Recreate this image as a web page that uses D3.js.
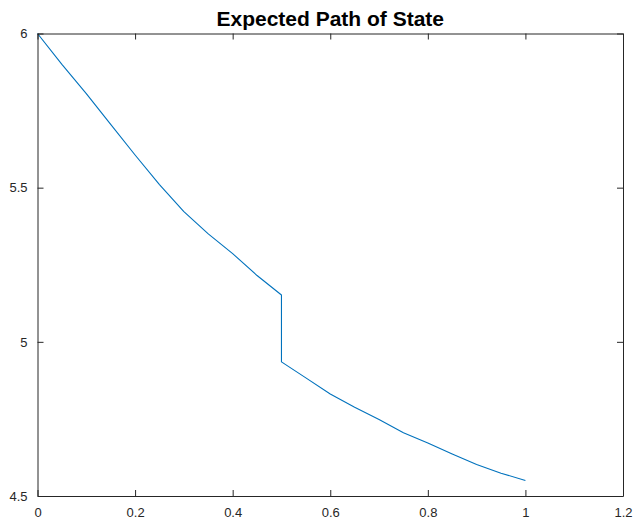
<!DOCTYPE html>
<html>
<head>
<meta charset="utf-8">
<script src="https://cdn.jsdelivr.net/npm/d3@7"></script>
<style>
  html, body { margin: 0; padding: 0; background: #fff; }
  svg { display: block; }
  text { font-family: "Liberation Sans", Arial, Helvetica, sans-serif; }
</style>
</head>
<body>
<div id="chart"></div>
<script>
// Expected state path: time and expected value (jump at t = 0.5)
const timeBefore = [0, 0.05, 0.10, 0.15, 0.20, 0.25, 0.30, 0.35, 0.40, 0.45, 0.50];
const stateBefore = [6.000, 5.900, 5.805, 5.705, 5.606, 5.510, 5.422, 5.350, 5.286, 5.215, 5.152];
const timeAfter = [0.50, 0.55, 0.60, 0.65, 0.70, 0.75, 0.80, 0.85, 0.90, 0.95, 1.00];
const stateAfter = [4.935, 4.883, 4.831, 4.788, 4.748, 4.705, 4.672, 4.636, 4.602, 4.574, 4.550];

const xTicks = [0, 0.2, 0.4, 0.6, 0.8, 1, 1.2];
const yTicks = [4.5, 5, 5.5, 6];
const titleText = "Expected Path of State";

const W = 634, H = 523;
const plotLeft = 37.5, plotRight = 623, plotTop = 33.5, plotBottom = 496;
const axisColor = "#262626";
const lineColor = "#0072BD";
const tickLen = 6;

const svg = d3.select("#chart").append("svg")
  .attr("width", W).attr("height", H);

const x = d3.scaleLinear().domain([0, 1.2]).range([plotLeft, plotRight]);
const y = d3.scaleLinear().domain([4.5, 6]).range([plotBottom, plotTop]);

// path data: both segments joined, producing the vertical drop at t = 0.5
const points = timeBefore.map((t, i) => [t, stateBefore[i]])
  .concat(timeAfter.map((t, i) => [t, stateAfter[i]]));

const line = d3.line().x(d => x(d[0])).y(d => y(d[1]));

svg.append("path")
  .datum(points)
  .attr("fill", "none")
  .attr("stroke", lineColor)
  .attr("stroke-width", 1.1)
  .attr("stroke-linejoin", "round")
  .attr("d", line);

// axes with inward ticks (bottom/left labelled, top/right mirrored)
const fmt = d => String(d);
const xAxisB = d3.axisBottom(x).tickValues(xTicks).tickFormat(fmt).tickSizeInner(-tickLen).tickSizeOuter(0).tickPadding(12);
const xAxisT = d3.axisTop(x).tickValues(xTicks).tickFormat("").tickSizeInner(-tickLen).tickSizeOuter(0);
const yAxisL = d3.axisLeft(y).tickValues(yTicks).tickFormat(fmt).tickSizeInner(-tickLen).tickSizeOuter(0).tickPadding(10);
const yAxisR = d3.axisRight(y).tickValues(yTicks).tickFormat("").tickSizeInner(-tickLen).tickSizeOuter(0);

function style(g) {
  g.selectAll(".domain").attr("stroke", axisColor).attr("stroke-width", 1);
  g.selectAll(".tick line").attr("stroke", axisColor).attr("stroke-width", 1);
  g.selectAll(".tick text").attr("fill", axisColor).attr("font-size", 13)
    .attr("font-family", "'Liberation Sans', Arial, sans-serif");
}

svg.append("g").attr("transform", `translate(0,${plotBottom})`).call(xAxisB).call(style);
svg.append("g").attr("transform", `translate(0,${plotTop})`).call(xAxisT).call(style);
svg.append("g").attr("transform", `translate(${plotLeft},0)`).call(yAxisL).call(style);
svg.append("g").attr("transform", `translate(${plotRight},0)`).call(yAxisR).call(style);

svg.append("text")
  .attr("x", (plotLeft + plotRight) / 2)
  .attr("y", 26)
  .attr("text-anchor", "middle")
  .attr("font-size", 21)
  .attr("font-weight", "bold")
  .attr("fill", "#000")
  .text(titleText);
</script>
</body>
</html>
